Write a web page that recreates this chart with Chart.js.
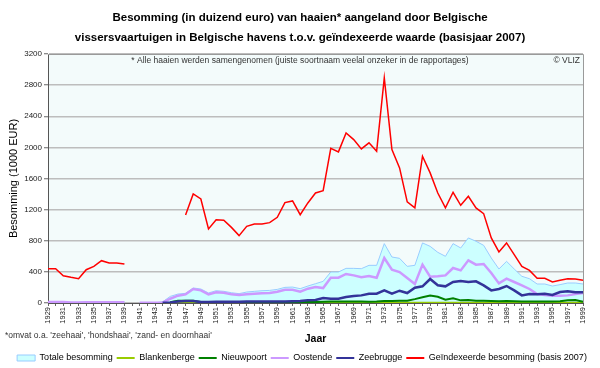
<!DOCTYPE html>
<html>
<head>
<meta charset="utf-8">
<script src="https://cdn.jsdelivr.net/npm/chart.js@4.4.1/dist/chart.umd.min.js"></script>
<style>
  html, body { margin: 0; padding: 0; background: #ffffff; }
  #wrap { width: 600px; height: 368px; position: relative; }
</style>
</head>
<body>
<div id="wrap"><canvas id="c" width="600" height="368"></canvas></div>
<script>
const years = [1929,1930,1931,1932,1933,1934,1935,1936,1937,1938,1939,1940,1941,1942,1943,1944,
  1945,1946,1947,1948,1949,1950,1951,1952,1953,1954,1955,1956,1957,1958,1959,1960,1961,1962,1963,1964,
  1965,1966,1967,1968,1969,1970,1971,1972,1973,1974,1975,1976,1977,1978,1979,1980,1981,1982,1983,1984,
  1985,1986,1987,1988,1989,1990,1991,1992,1993,1994,1995,1996,1997,1998,1999];

const yTicks = [0,400,800,1200,1600,2000,2400,2800,3200];

const totaleBesomming = [15,15,15,8,8,14,14,14,14,14,14, null, 3,3,3,15,
  85,115,124,193,180, 129,158,150,132,120, 141,150,158,162,175, 201,205,184,218,248,
  278,398,398,445,445, 441,484,484,763,591, 574,471,484,772,728, 651,600,763,707,836,
  793,741,578,437,535, 437,343,312,244,244, 218,236,257,257,244];

const blankenberge = [null,null,null,null,null,null,null,null,null,null,null,null,null,null,null,null,
  3,4,4,4,3, 3,3,3,8,8, 8,8,5,3,3, 3,3,3,3,3,
  3,3,3,3,3, 3,3,3,3,3, 3,3,3,3,3, 3,3,3,3,3,
  3,3,3,3,3, 3,3,3,3,3, 3,3,3,3,3];

const nieuwpoort = [null,null,null,null,null,null,null,null,null,null,null,null,null,null,null,null,
  10,28,30,28,12, 10,10,10,8,8, 10,12,12,12,12, 12,12,12,12,12,
  15,18,18,20,20, 18,15,18,25,25, 30,30,50,75,95, 80,43,60,34,38,
  30,28,25,22,25, 22,20,20,20,20, 20,22,34,38,15];

const oostende = [12,12,12,5,5,10,10,10,10,10,10, null, 2,2,2,5,
  55,94,111,180,162, 111,137,132,111,103, 111,120,124,128,145, 171,171,145,184,205,
  192,325,325,373,355, 330,347,325,578,428, 398,321,244,493,338, 343,355,450,419,548,
  493,501,386,252,312, 270,227,180,115,103, 94,94,98,115,128];

const zeebrugge = [null,null,null,null,null,null,null,null,null,null,null,null,null,null,null,3,
  8,20,25,25,12, 12,15,15,15,15, 18,18,18,18,20, 20,22,25,34,40,
  64,55,55,77,90, 98,120,120,162,120, 158,128,197,214,308, 227,214,270,283,270,
  278,227,162,180,218, 162,98,115,111,120, 103,141,150,137,137];

const geindexeerd = [441,441,351,330,312,428,471,544,514,514,501, null,null,null,null,null,
  null,null,1131,1402,1337, 951,1071,1063,972,866, 985,1016,1016,1033,1101, 1290,1312,1135,1286,1414,
  1444,1988,1942,2186,2100, 1980,2058,1950,2893,1971, 1736,1299,1222,1886,1672, 1414,1222,1423,1256,1371,
  1222,1149,836,656,772, 621,471,419,317,317, 270,291,312,309,291];

const seriesNames = ['Totale besomming','Blankenberge','Nieuwpoort','Oostende','Zeebrugge','Geïndexeerde besomming (basis 2007)'];

const titleLines = ['Besomming (in duizend euro) van haaien* aangeland door Belgische',
  'vissersvaartuigen in Belgische havens t.o.v. geïndexeerde waarde (basisjaar 2007)'];
const noteText = '* Alle haaien werden samengenomen (juiste soortnaam veelal onzeker in de rapportages)';
const creditText = '© VLIZ';
const footText = "*omvat o.a. 'zeehaai', 'hondshaai', 'zand- en doornhaai'";

const FONT = "'Liberation Sans', Arial, sans-serif";

const decorPlugin = {
  id: 'decor',
  beforeDraw(chart) {
    const {ctx, chartArea: a} = chart;
    ctx.save();
    ctx.fillStyle = '#f3fbfb';
    ctx.fillRect(a.left, a.top, a.right - a.left, a.bottom - a.top);
    ctx.restore();
  },
  afterLayout(chart) {
    const lg = chart.legend;
    if (lg) {
      lg.left = 2; lg.right = 602; lg.width = 600;
      lg.top += 4.5; lg.bottom += 4.5;
    }
  },
  afterDatasetsDraw(chart) {
    const {ctx, chartArea: a} = chart;
    ctx.save();
    ctx.strokeStyle = '#9a9a9a';
    ctx.lineWidth = 1;
    ctx.beginPath();
    ctx.moveTo(a.left, a.top + 0.5);
    ctx.lineTo(a.right + 0.5, a.top + 0.5);
    ctx.lineTo(a.right + 0.5, a.bottom);
    ctx.stroke();
    ctx.restore();
  },
  afterDraw(chart) {
    const {ctx} = chart;
    ctx.save();
    ctx.fillStyle = '#000';
    ctx.textAlign = 'center';
    ctx.textBaseline = 'middle';
    ctx.font = 'bold 11.5px ' + FONT;
    ctx.fillText(titleLines[0], 300, 18);
    ctx.fillText(titleLines[1], 300, 37.5);
    ctx.fillStyle = '#333';
    ctx.font = '8.5px ' + FONT;
    ctx.fillText(noteText, 300, 61);
    ctx.textAlign = 'right';
    ctx.fillText(creditText, 580, 61);
    ctx.textAlign = 'left';
    ctx.fillText(footText, 5, 336);
    ctx.restore();
  }
};

const lineColors = ['#99ccff','#99cc00','#008000','#cc99ff','#333399','#ff0000'];
const lineWidths = [1, 2, 2, 2.5, 2.5, 1.5];

function mkLine(i, data, order) {
  return {
    label: seriesNames[i], data, borderColor: lineColors[i], borderWidth: lineWidths[i],
    pointRadius: 0, tension: 0, fill: false, spanGaps: false, order
  };
}

const totalDs = {
  label: seriesNames[0], data: totaleBesomming, borderColor: lineColors[0], borderWidth: 1,
  backgroundColor: '#ccffff', fill: 'origin', pointRadius: 0, tension: 0, spanGaps: false, order: 10
};

new Chart(document.getElementById('c'), {
  type: 'line',
  data: {
    labels: years,
    datasets: [
      totalDs,
      mkLine(1, blankenberge, 5),
      mkLine(2, nieuwpoort, 4),
      mkLine(3, oostende, 3),
      mkLine(4, zeebrugge, 2),
      mkLine(5, geindexeerd, 1)
    ]
  },
  options: {
    responsive: false,
    animation: false,
    devicePixelRatio: 1,
    layout: { padding: { top: 54, left: 0, right: 17, bottom: 0 } },
    plugins: {
      tooltip: { enabled: false },
      title: { display: false },
      legend: {
        display: true,
        position: 'bottom',
        align: 'center',
        labels: {
          usePointStyle: true,
          pointStyleWidth: 18,
          boxHeight: 6,
          padding: 4,
          color: '#222',
          font: { size: 9, family: FONT },
          generateLabels(chart) {
            return chart.data.datasets.map((ds, i) => ({
              text: ds.label,
              datasetIndex: i,
              pointStyle: i === 0 ? 'rect' : 'line',
              fillStyle: i === 0 ? '#ccffff' : ds.borderColor,
              strokeStyle: ds.borderColor,
              lineWidth: i === 0 ? 1 : 2,
              hidden: false
            }));
          }
        }
      }
    },
    scales: {
      x: {
        type: 'category',
        offset: false,
        afterFit(scale) { scale.height = 42; },
        grid: { drawOnChartArea: false, drawTicks: true, tickLength: 3, color: '#666' },
        border: { color: '#555', width: 1 },
        ticks: {
          autoSkip: false, maxRotation: 90, minRotation: 90, padding: 1,
          color: '#222', font: { size: 7.5, family: FONT },
          callback(val, idx) { return (years[idx] - years[0]) % 2 === 0 ? String(years[idx]) : ''; }
        },
        title: { display: true, text: 'Jaar', color: '#000', font: { size: 10.5, weight: 'bold', family: FONT }, padding: { top: 1, bottom: 0 } }
      },
      y: {
        min: yTicks[0], max: yTicks[yTicks.length - 1],
        afterFit(scale) { scale.width = 48; },
        afterBuildTicks(scale) { scale.ticks = yTicks.map(v => ({ value: v })); },
        grid: { color: '#bdbdbd', lineWidth: 1.5, tickLength: 4, tickColor: '#666', tickWidth: 1 },
        border: { color: '#555', width: 1 },
        ticks: { padding: 2, color: '#222', font: { size: 8, family: FONT }, callback(v) { return String(v); } },
        title: { display: true, text: 'Besomming (1000 EUR)', color: '#000', font: { size: 11, family: FONT }, padding: { top: 7, bottom: 0 } }
      }
    }
  },
  plugins: [decorPlugin]
});
</script>
</body>
</html>
